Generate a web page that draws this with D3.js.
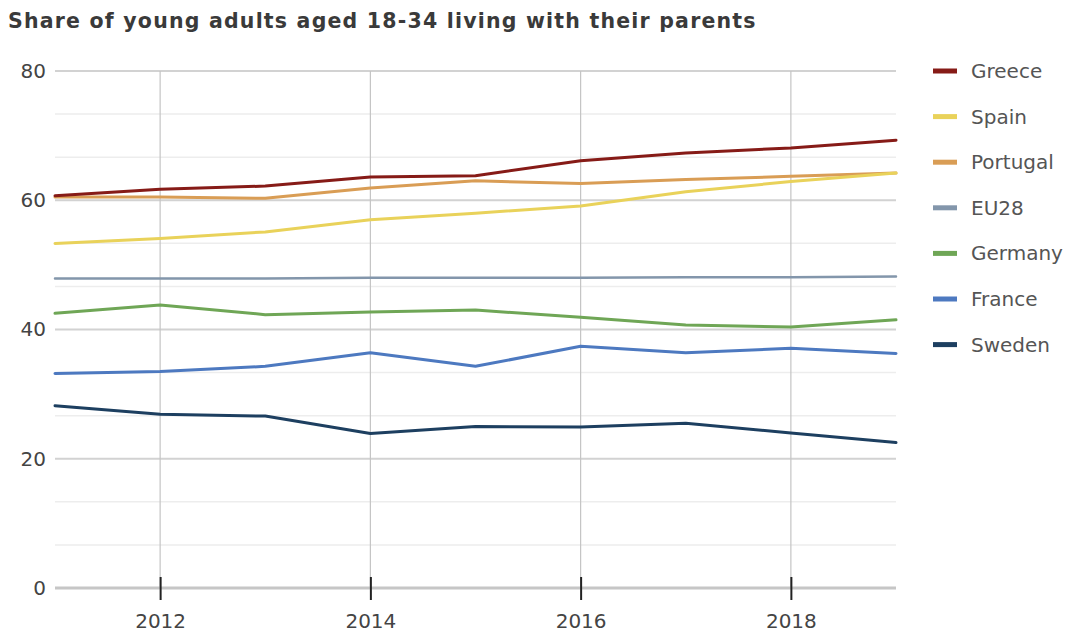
<!DOCTYPE html>
<html>
<head>
<meta charset="utf-8">
<script src="https://cdn.jsdelivr.net/npm/d3@7"></script>
<style>
  html, body { margin: 0; padding: 0; background: #fff; }
  svg { display: block; }
</style>
</head>
<body>
<svg id="chart" width="1072" height="636"></svg>
<script>
// Years on the x axis
const years = [2011, 2012, 2013, 2014, 2015, 2016, 2017, 2018, 2019];

// Share (%) of 18-34 year olds living with their parents
const greece   = [60.7, 61.7, 62.2, 63.6, 63.8, 66.1, 67.3, 68.1, 69.3];
const spain    = [53.3, 54.1, 55.1, 57.0, 58.0, 59.1, 61.3, 62.9, 64.2];
const portugal = [60.5, 60.5, 60.3, 61.9, 63.0, 62.6, 63.2, 63.7, 64.2];
const eu28     = [47.9, 47.9, 47.9, 48.0, 48.0, 48.0, 48.1, 48.1, 48.2];
const germany  = [42.5, 43.8, 42.3, 42.7, 43.0, 41.9, 40.7, 40.4, 41.5];
const france   = [33.2, 33.5, 34.3, 36.4, 34.3, 37.4, 36.4, 37.1, 36.3];
const sweden   = [28.2, 26.9, 26.6, 23.9, 25.0, 24.9, 25.5, 24.0, 22.5];

const seriesNames = ["Greece", "Spain", "Portugal", "EU28", "Germany", "France", "Sweden"];
const seriesValues = [greece, spain, portugal, eu28, germany, france, sweden];
const seriesColors = ["#861b17", "#e9d25a", "#d99d55", "#8396ab", "#6fa656", "#4d79c0", "#1d3f60"];

const yTicks = [0, 20, 40, 60, 80];
const xTicks = [2012, 2014, 2016, 2018];

const svg = d3.select("#chart");
const margin = { left: 55, right: 176, top: 71, bottom: 48 };
const W = 1072, H = 636;

const x = d3.scaleLinear().domain([2011, 2019]).range([margin.left, W - margin.right]);
const y = d3.scaleLinear().domain([0, 80]).range([H - margin.bottom, margin.top]);

// Title
svg.append("text")
  .attr("x", 8).attr("y", 28)
  .attr("font-family", "DejaVu Sans, sans-serif")
  .attr("font-weight", "bold")
  .attr("font-size", 20.5)
  .attr("letter-spacing", 1.2)
  .attr("fill", "#3a3a3a")
  .text("Share of young adults aged 18-34 living with their parents");

const grid = svg.append("g");

// Minor horizontal gridlines (two between each major step)
const minor = [];
for (let i = 0; i < yTicks.length - 1; i++) {
  const step = (yTicks[i + 1] - yTicks[i]) / 3;
  minor.push(yTicks[i] + step, yTicks[i] + 2 * step);
}
grid.selectAll("line.minor").data(minor).join("line")
  .attr("class", "minor")
  .attr("x1", x(2011)).attr("x2", x(2019))
  .attr("y1", d => y(d)).attr("y2", d => y(d))
  .attr("stroke", "#ededed").attr("stroke-width", 1.5);

// Major horizontal gridlines
grid.selectAll("line.major").data(yTicks.filter(d => d > 0)).join("line")
  .attr("class", "major")
  .attr("x1", x(2011)).attr("x2", x(2019))
  .attr("y1", d => y(d)).attr("y2", d => y(d))
  .attr("stroke", "#d2d2d2").attr("stroke-width", 2);

// Vertical gridlines
grid.selectAll("line.vgrid").data(xTicks).join("line")
  .attr("class", "vgrid")
  .attr("x1", d => x(d)).attr("x2", d => x(d))
  .attr("y1", y(80)).attr("y2", y(0))
  .attr("stroke", "#c4c4c4").attr("stroke-width", 1.2);

// Y axis labels
const yAxis = d3.axisLeft(y).tickValues(yTicks).tickSize(0).tickPadding(9);
const gy = svg.append("g").attr("transform", `translate(${margin.left},0)`).call(yAxis);
gy.select(".domain").remove();
gy.selectAll("text")
  .attr("font-family", "DejaVu Sans, sans-serif")
  .attr("font-size", 20)
  .attr("fill", "#444");

// Series lines
const line = d3.line()
  .x((d, i) => x(years[i]))
  .y(d => y(d));

svg.append("g").selectAll("path").data(seriesValues.map((v, i) => ({ v, i })).reverse()).join("path")
  .attr("d", d => line(d.v))
  .attr("fill", "none")
  .attr("stroke", d => seriesColors[d.i])
  .attr("stroke-width", d => d.i === 3 ? 2.5 : 3)
  .attr("stroke-linejoin", "round")
  .attr("stroke-linecap", "round");

// Baseline
svg.append("line")
  .attr("x1", x(2011)).attr("x2", x(2019))
  .attr("y1", y(0)).attr("y2", y(0))
  .attr("stroke", "#c6c6c6").attr("stroke-width", 3);

// X axis ticks and labels
const xAxis = d3.axisBottom(x).tickValues(xTicks).tickFormat(d3.format("d")).tickSize(12).tickPadding(14);
const gx = svg.append("g").attr("transform", `translate(0,${y(0)})`).call(xAxis);
gx.select(".domain").remove();
gx.selectAll(".tick line")
  .attr("y1", -11)
  .attr("stroke", "#222").attr("stroke-width", 2);
gx.selectAll("text")
  .attr("font-family", "DejaVu Sans, sans-serif")
  .attr("font-size", 20)
  .attr("fill", "#444");

// Legend
const legend = svg.append("g").attr("transform", "translate(933,71)");
const rows = legend.selectAll("g").data(seriesNames).join("g")
  .attr("transform", (d, i) => `translate(0,${i * 45.6})`);
rows.append("line")
  .attr("x1", 0).attr("x2", 24).attr("y1", 0).attr("y2", 0)
  .attr("stroke", (d, i) => seriesColors[i]).attr("stroke-width", 5);
rows.append("text")
  .attr("x", 38).attr("y", 0).attr("dy", "0.35em")
  .attr("font-family", "DejaVu Sans, sans-serif")
  .attr("font-size", 20)
  .attr("fill", "#555")
  .text(d => d);
</script>
</body>
</html>
